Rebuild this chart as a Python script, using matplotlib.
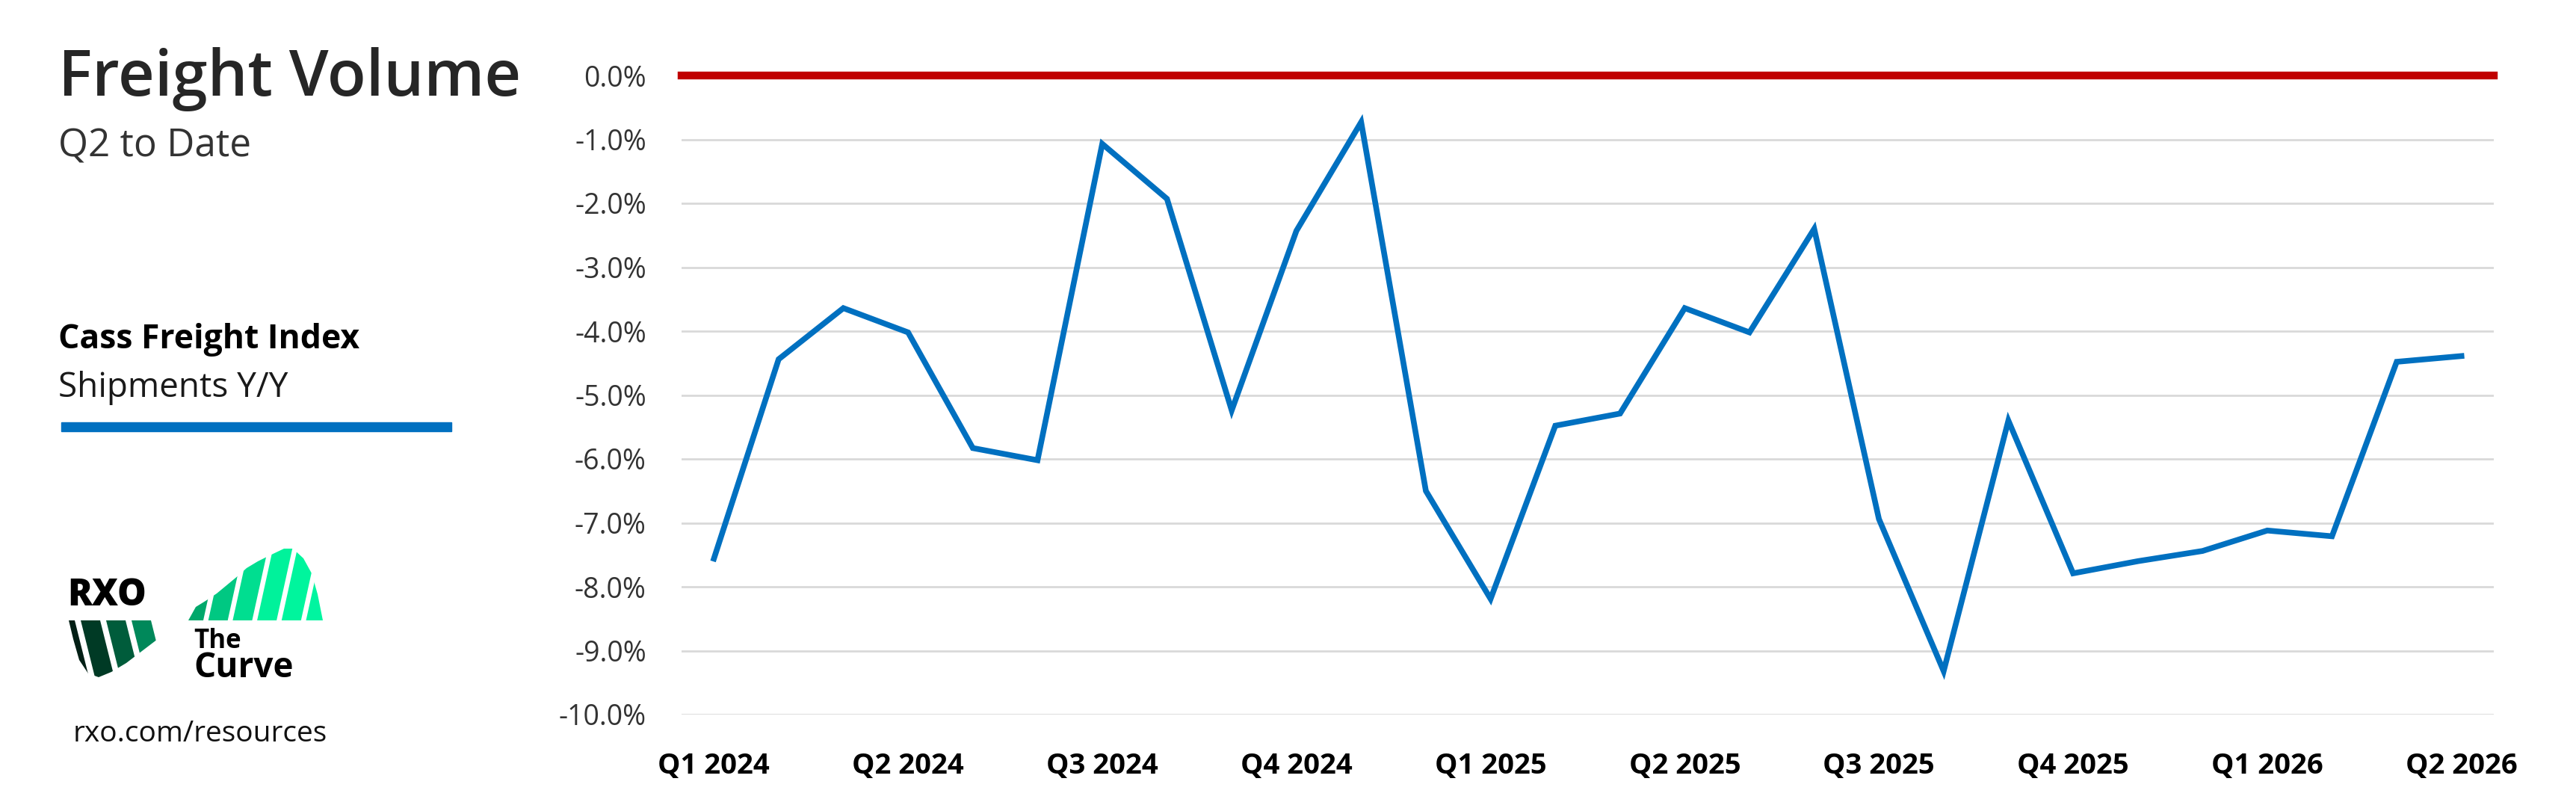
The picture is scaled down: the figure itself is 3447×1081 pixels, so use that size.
import matplotlib
matplotlib.use("Agg")
import matplotlib.pyplot as plt
from matplotlib.patches import Polygon, Rectangle
import numpy as np

# Cass Freight Index, shipments y/y (%), monthly Jan 2024 .. Apr 2026
months = ["Jan 24", "Feb 24", "Mar 24", "Apr 24", "May 24", "Jun 24",
          "Jul 24", "Aug 24", "Sep 24", "Oct 24", "Nov 24", "Dec 24",
          "Jan 25", "Feb 25", "Mar 25", "Apr 25", "May 25", "Jun 25",
          "Jul 25", "Aug 25", "Sep 25", "Oct 25", "Nov 25", "Dec 25",
          "Jan 26", "Feb 26", "Mar 26", "Apr 26"]
shipments_yy = [-7.56, -4.44, -3.64, -4.02, -5.83, -6.02,
                -1.07, -1.93, -5.24, -2.43, -0.73, -6.50,
                -8.19, -5.48, -5.29, -3.64, -4.02, -2.40,
                -6.94, -9.32, -5.40, -7.79, -7.60, -7.44,
                -7.12, -7.21, -4.48, -4.39]
quarter_labels = ["Q1 2024", "Q2 2024", "Q3 2024", "Q4 2024", "Q1 2025",
                  "Q2 2025", "Q3 2025", "Q4 2025", "Q1 2026", "Q2 2026"]
y_ticks = [0, -1, -2, -3, -4, -5, -6, -7, -8, -9, -10]

plt.rcParams['font.family'] = ['Open Sans', 'DejaVu Sans']

W, H = 3448, 1081
fig = plt.figure(figsize=(W / 100, H / 100), dpi=100)

# background axes in pixel coords for the left panel
bg = fig.add_axes([0, 0, 1, 1])
bg.set_xlim(0, W)
bg.set_ylim(H, 0)
bg.axis("off")

bg.text(78, 128, "Freight Volume", fontsize=61, fontweight="semibold", color="#262626", va="baseline")
bg.text(78, 209, "Q2 to Date", fontsize=37, color="#333333", va="baseline")
bg.text(78, 466, "Cass Freight Index", fontsize=32, fontweight="bold", color="black", va="baseline")
bg.text(78, 531, "Shipments Y/Y", fontsize=33, color="#1a1a1a", va="baseline")
bg.add_patch(Rectangle((82, 565), 522, 12, color="#0070c0"))

# logo
bg.text(90, 810, "RXO", fontsize=35, fontweight="heavy", color="black", va="baseline")
bg.text(259, 867, "The", fontsize=25, fontweight="bold", color="black", va="baseline")
bg.text(259, 906, "Curve", fontsize=33, fontweight="bold", color="black", va="baseline")
bg.text(98, 992, "rxo.com/resources", fontsize=28, color="#111111", va="baseline")


def stripes(outline, x0, y_base, y_top, period, width, slant, colors):
    clip = Polygon(outline, closed=True, facecolor="none", edgecolor="none")
    bg.add_patch(clip)
    for i, c in enumerate(colors):
        xb = x0 + i * period
        h = y_base - y_top
        pts = [(xb, y_base), (xb + width, y_base),
               (xb + width + slant * h, y_top), (xb + slant * h, y_top)]
        p = Polygon(pts, closed=True, facecolor=c, edgecolor="none")
        bg.add_patch(p)
        p.set_clip_path(clip)


top_shape = [(252, 830), (262, 812), (275, 804), (290, 794), (319, 770),
             (330, 760), (345, 751), (359, 744), (380, 734), (392, 734),
             (406, 747), (417, 767), (425, 795), (432, 830)]
stripes(top_shape, 246, 830, 720, 32.7, 26, 0.22,
        ["#00a86b", "#00c882", "#00de90", "#00f29b", "#00f59d", "#00f5a0"])

bottom_shape = [(92, 830), (235, 830), (211, 855), (169, 887), (149, 899),
                (132, 906), (118, 901), (106, 883), (98, 855)]
stripes(bottom_shape, 60, 910, 830, 34, 26, -0.25,
        ["#05140d", "#021f15", "#003a25", "#005c3b", "#00885a"])

# main chart
ax = fig.add_axes([912 / W, 1 - 956 / H, (3337 - 912) / W, (956 - 101) / H])
x = np.arange(len(months))
ax.set_xlim(-0.5, len(months) - 0.5)
ax.set_ylim(-10, 0)
ax.set_yticks(y_ticks)
ax.set_yticklabels([f"{v:.1f}%" for v in y_ticks])
ax.yaxis.grid(True, color="#d9d9d9", linewidth=2)
ax.set_axisbelow(True)
ax.axhline(0, color="#c00000", linewidth=7.5, zorder=3, clip_on=False)
ax.plot(x, shipments_yy, color="#0070c0", linewidth=5.5, zorder=4,
        solid_joinstyle="miter")
ax.set_xticks(x[::3])
ax.set_xticklabels(quarter_labels, fontweight="bold")
for s in ax.spines.values():
    s.set_visible(False)
ax.tick_params(axis="y", length=0, pad=34, labelsize=27, labelcolor="#333333")
ax.tick_params(axis="x", length=0, pad=36, labelsize=27.5, labelcolor="black")

fig.savefig("out.png", dpi=100)
